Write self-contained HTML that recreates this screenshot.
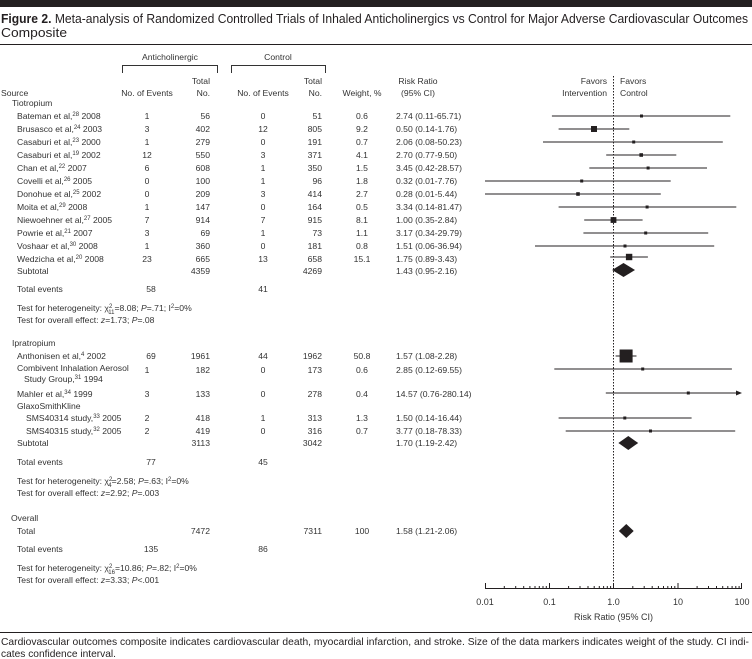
<!DOCTYPE html>
<html><head><meta charset="utf-8"><style>
body{margin:0;background:#fff;}
svg{display:block;font-family:"Liberation Sans",Arial,sans-serif;}
.t{font-size:8.6px;fill:#333;}
.m{text-anchor:middle}.e{text-anchor:end}
</style></head><body>
<svg width="752" height="659" viewBox="0 0 752 659" xmlns="http://www.w3.org/2000/svg">
<rect x="0" y="0" width="752" height="7" fill="#231f20"/>
<text x="1" y="23" textLength="747" lengthAdjust="spacingAndGlyphs" style="font-size:13px;fill:#231f20"><tspan font-weight="bold">Figure 2.</tspan> Meta-analysis of Randomized Controlled Trials of Inhaled Anticholinergics vs Control for Major Adverse Cardiovascular Outcomes</text>
<text x="1" y="37" textLength="66" lengthAdjust="spacingAndGlyphs" style="font-size:13px;fill:#231f20">Composite</text>
<line x1="0" y1="44.5" x2="752" y2="44.5" stroke="#231f20" stroke-width="1"/>

<g class="t">
<text x="170" y="60" class="m">Anticholinergic</text>
<text x="278" y="60" class="m">Control</text>
<text x="210" y="84" class="e">Total</text><text x="210" y="96" class="e">No.</text>
<text x="322" y="84" class="e">Total</text><text x="322" y="96" class="e">No.</text>
<text x="1" y="96">Source</text>
<text x="147" y="96" class="m">No. of Events</text>
<text x="263" y="96" class="m">No. of Events</text>
<text x="362" y="96" class="m">Weight, %</text>
<text x="418" y="84" class="m">Risk Ratio</text>
<text x="418" y="96" class="m">(95% CI)</text>
<text x="607" y="84" class="e">Favors</text>
<text x="607" y="96" class="e">Intervention</text>
<text x="620" y="84">Favors</text>
<text x="620" y="96">Control</text>
</g>
<path d="M122.5 73V65.5H217.5V73M231.5 73V65.5H325.5V73" fill="none" stroke="#333" stroke-width="1"/>

<g class="t">
<text x="12" y="106">Tiotropium</text>
<text x="17" y="119">Bateman et al,<tspan dy="-3" font-size="6">28</tspan><tspan dy="3"> 2008</tspan></text>
<text x="17" y="132">Brusasco et al,<tspan dy="-3" font-size="6">24</tspan><tspan dy="3"> 2003</tspan></text>
<text x="17" y="145">Casaburi et al,<tspan dy="-3" font-size="6">23</tspan><tspan dy="3"> 2000</tspan></text>
<text x="17" y="158">Casaburi et al,<tspan dy="-3" font-size="6">19</tspan><tspan dy="3"> 2002</tspan></text>
<text x="17" y="171">Chan et al,<tspan dy="-3" font-size="6">22</tspan><tspan dy="3"> 2007</tspan></text>
<text x="17" y="184">Covelli et al,<tspan dy="-3" font-size="6">26</tspan><tspan dy="3"> 2005</tspan></text>
<text x="17" y="197">Donohue et al,<tspan dy="-3" font-size="6">25</tspan><tspan dy="3"> 2002</tspan></text>
<text x="17" y="210">Moita et al,<tspan dy="-3" font-size="6">29</tspan><tspan dy="3"> 2008</tspan></text>
<text x="17" y="223">Niewoehner et al,<tspan dy="-3" font-size="6">27</tspan><tspan dy="3"> 2005</tspan></text>
<text x="17" y="236">Powrie et al,<tspan dy="-3" font-size="6">21</tspan><tspan dy="3"> 2007</tspan></text>
<text x="17" y="249">Voshaar et al,<tspan dy="-3" font-size="6">30</tspan><tspan dy="3"> 2008</tspan></text>
<text x="17" y="262">Wedzicha et al,<tspan dy="-3" font-size="6">20</tspan><tspan dy="3"> 2008</tspan></text>
<text x="17" y="274">Subtotal</text>
<text x="17" y="292">Total events</text>
<text x="17" y="311">Test for heterogeneity: χ<tspan dy="-3" font-size="6">2</tspan><tspan dx="-4" dy="6" font-size="6">11</tspan><tspan dy="-3">=8.08; </tspan><tspan font-style="italic">P</tspan>=.71; I<tspan dy="-3" font-size="6">2</tspan><tspan dy="3">=0%</tspan></text>
<text x="17" y="323">Test for overall effect: <tspan font-style="italic">z</tspan>=1.73; <tspan font-style="italic">P</tspan>=.08</text>

<g class="m">
<text x="147" y="119">1</text><text x="147" y="132">3</text><text x="147" y="145">1</text><text x="147" y="158">12</text><text x="147" y="171">6</text><text x="147" y="184">0</text><text x="147" y="197">0</text><text x="147" y="210">1</text><text x="147" y="223">7</text><text x="147" y="236">3</text><text x="147" y="249">1</text><text x="147" y="262">23</text><text x="151" y="292">58</text>
<text x="263" y="119">0</text><text x="263" y="132">12</text><text x="263" y="145">0</text><text x="263" y="158">3</text><text x="263" y="171">1</text><text x="263" y="184">1</text><text x="263" y="197">3</text><text x="263" y="210">0</text><text x="263" y="223">7</text><text x="263" y="236">1</text><text x="263" y="249">0</text><text x="263" y="262">13</text><text x="263" y="292">41</text>
<text x="362" y="119">0.6</text><text x="362" y="132">9.2</text><text x="362" y="145">0.7</text><text x="362" y="158">4.1</text><text x="362" y="171">1.5</text><text x="362" y="184">1.8</text><text x="362" y="197">2.7</text><text x="362" y="210">0.5</text><text x="362" y="223">8.1</text><text x="362" y="236">1.1</text><text x="362" y="249">0.8</text><text x="362" y="262">15.1</text>
</g>
<g class="e">
<text x="210" y="119">56</text><text x="210" y="132">402</text><text x="210" y="145">279</text><text x="210" y="158">550</text><text x="210" y="171">608</text><text x="210" y="184">100</text><text x="210" y="197">209</text><text x="210" y="210">147</text><text x="210" y="223">914</text><text x="210" y="236">69</text><text x="210" y="249">360</text><text x="210" y="262">665</text><text x="210" y="274">4359</text>
<text x="322" y="119">51</text><text x="322" y="132">805</text><text x="322" y="145">191</text><text x="322" y="158">371</text><text x="322" y="171">350</text><text x="322" y="184">96</text><text x="322" y="197">414</text><text x="322" y="210">164</text><text x="322" y="223">915</text><text x="322" y="236">73</text><text x="322" y="249">181</text><text x="322" y="262">658</text><text x="322" y="274">4269</text>
</g>
<text x="396" y="119">2.74 (0.11-65.71)</text><text x="396" y="132">0.50 (0.14-1.76)</text><text x="396" y="145">2.06 (0.08-50.23)</text><text x="396" y="158">2.70 (0.77-9.50)</text><text x="396" y="171">3.45 (0.42-28.57)</text><text x="396" y="184">0.32 (0.01-7.76)</text><text x="396" y="197">0.28 (0.01-5.44)</text><text x="396" y="210">3.34 (0.14-81.47)</text><text x="396" y="223">1.00 (0.35-2.84)</text><text x="396" y="236">3.17 (0.34-29.79)</text><text x="396" y="249">1.51 (0.06-36.94)</text><text x="396" y="262">1.75 (0.89-3.43)</text><text x="396" y="274">1.43 (0.95-2.16)</text>

<text x="12" y="346">Ipratropium</text>
<text x="17" y="359">Anthonisen et al,<tspan dy="-3" font-size="6">4</tspan><tspan dy="3"> 2002</tspan></text>
<text x="17" y="371">Combivent Inhalation Aerosol</text>
<text x="24" y="382">Study Group,<tspan dy="-3" font-size="6">31</tspan><tspan dy="3"> 1994</tspan></text>
<text x="17" y="397">Mahler et al,<tspan dy="-3" font-size="6">34</tspan><tspan dy="3"> 1999</tspan></text>
<text x="17" y="409">GlaxoSmithKline</text>
<text x="26" y="421">SMS40314 study,<tspan dy="-3" font-size="6">33</tspan><tspan dy="3"> 2005</tspan></text>
<text x="26" y="434">SMS40315 study,<tspan dy="-3" font-size="6">32</tspan><tspan dy="3"> 2005</tspan></text>
<text x="17" y="446">Subtotal</text>
<text x="17" y="465">Total events</text>
<text x="17" y="484">Test for heterogeneity: χ<tspan dy="-3" font-size="6">2</tspan><tspan dx="-4" dy="6" font-size="6">4</tspan><tspan dy="-3">=2.58; </tspan><tspan font-style="italic">P</tspan>=.63; I<tspan dy="-3" font-size="6">2</tspan><tspan dy="3">=0%</tspan></text>
<text x="17" y="496">Test for overall effect: <tspan font-style="italic">z</tspan>=2.92; <tspan font-style="italic">P</tspan>=.003</text>
<g class="m">
<text x="151" y="359">69</text><text x="147" y="373">1</text><text x="147" y="397">3</text><text x="147" y="421">2</text><text x="147" y="434">2</text><text x="151" y="465">77</text>
<text x="263" y="359">44</text><text x="263" y="373">0</text><text x="263" y="397">0</text><text x="263" y="421">1</text><text x="263" y="434">0</text><text x="263" y="465">45</text>
<text x="362" y="359">50.8</text><text x="362" y="373">0.6</text><text x="362" y="397">0.4</text><text x="362" y="421">1.3</text><text x="362" y="434">0.7</text>
</g>
<g class="e">
<text x="210" y="359">1961</text><text x="210" y="373">182</text><text x="210" y="397">133</text><text x="210" y="421">418</text><text x="210" y="434">419</text><text x="210" y="446">3113</text>
<text x="322" y="359">1962</text><text x="322" y="373">173</text><text x="322" y="397">278</text><text x="322" y="421">313</text><text x="322" y="434">316</text><text x="322" y="446">3042</text>
</g>
<text x="396" y="359">1.57 (1.08-2.28)</text><text x="396" y="373">2.85 (0.12-69.55)</text><text x="396" y="397">14.57 (0.76-280.14)</text><text x="396" y="421">1.50 (0.14-16.44)</text><text x="396" y="434">3.77 (0.18-78.33)</text><text x="396" y="446">1.70 (1.19-2.42)</text>

<text x="11" y="521">Overall</text>
<text x="17" y="534">Total</text>
<text x="210" y="534" class="e">7472</text><text x="322" y="534" class="e">7311</text><text x="362" y="534" class="m">100</text>
<text x="396" y="534">1.58 (1.21-2.06)</text>
<text x="17" y="552">Total events</text>
<text x="151" y="552" class="m">135</text><text x="263" y="552" class="m">86</text>
<text x="17" y="571">Test for heterogeneity: χ<tspan dy="-3" font-size="6">2</tspan><tspan dx="-4" dy="6" font-size="6">16</tspan><tspan dy="-3">=10.86; </tspan><tspan font-style="italic">P</tspan>=.82; I<tspan dy="-3" font-size="6">2</tspan><tspan dy="3">=0%</tspan></text>
<text x="17" y="583">Test for overall effect: <tspan font-style="italic">z</tspan>=3.33; <tspan font-style="italic">P</tspan>&lt;.001</text>
</g>

<!-- plot -->
<line x1="613.5" y1="76" x2="613.5" y2="588" stroke="#231f20" stroke-width="1" stroke-dasharray="1.5,1.5"/>
<g stroke="#231f20" stroke-width="1.1">
<line x1="551.9" y1="116" x2="730.3" y2="116"/>
<line x1="558.6" y1="129" x2="629.3" y2="129"/>
<line x1="543" y1="142" x2="722.8" y2="142"/>
<line x1="606.2" y1="155" x2="676.3" y2="155"/>
<line x1="589.3" y1="168" x2="707" y2="168"/>
<line x1="485" y1="181" x2="670.7" y2="181"/>
<line x1="485" y1="194" x2="660.8" y2="194"/>
<line x1="558.6" y1="207" x2="736.3" y2="207"/>
<line x1="584.2" y1="220" x2="642.6" y2="220"/>
<line x1="583.4" y1="233" x2="708.2" y2="233"/>
<line x1="535" y1="246" x2="714.2" y2="246"/>
<line x1="610.2" y1="257" x2="647.9" y2="257"/>
<line x1="615.6" y1="356" x2="636.5" y2="356"/>
<line x1="554.3" y1="369" x2="731.9" y2="369"/>
<line x1="605.8" y1="393" x2="738" y2="393"/>
<line x1="558.6" y1="418" x2="691.6" y2="418"/>
<line x1="565.7" y1="431" x2="735.2" y2="431"/>
</g>
<g fill="#231f20">
<rect x="640" y="114.5" width="3" height="3"/>
<rect x="591" y="126" width="6" height="6"/>
<rect x="632.2" y="140.5" width="3" height="3"/>
<rect x="639.4" y="153.2" width="3.6" height="3.6"/>
<rect x="646.6" y="166.5" width="3" height="3"/>
<rect x="580.2" y="179.5" width="3" height="3"/>
<rect x="576.2" y="192.2" width="3.6" height="3.6"/>
<rect x="645.6" y="205.5" width="3" height="3"/>
<rect x="610.6" y="217.1" width="5.8" height="5.8"/>
<rect x="644.2" y="231.5" width="3" height="3"/>
<rect x="623.5" y="244.5" width="3" height="3"/>
<rect x="625.9" y="253.8" width="6.4" height="6.4"/>
<rect x="619.6" y="349.5" width="13" height="13"/>
<rect x="641.2" y="367.5" width="3" height="3"/>
<rect x="686.8" y="391.5" width="3" height="3"/>
<rect x="623.3" y="416.5" width="3" height="3"/>
<rect x="649" y="429.5" width="3" height="3"/>
<polygon points="742,393 736,390.5 736,395.5"/>
<polygon points="612.1,270 623.5,263 635,270 623.5,277"/>
<polygon points="618.4,443 628.3,436 638.2,443 628.3,450"/>
<polygon points="618.8,531 626.3,524 633.7,531 626.3,538"/>
</g>
<g stroke="#231f20" stroke-width="1">
<line x1="485" y1="588.5" x2="742" y2="588.5"/>
<path d="M485.5 588V583M549.5 588V583M613.5 588V583M678 588V583M741.5 588V583" />
<path d="M504.3 588V586M515.7 588V586M523.7 588V586M529.9 588V586M535 588V586M539.3 588V586M543 588V586M546.3 588V586
M568.6 588V586M580 588V586M588 588V586M594.2 588V586M599.3 588V586M603.6 588V586M607.3 588V586M610.6 588V586
M632.8 588V586M644.2 588V586M652.2 588V586M658.4 588V586M663.5 588V586M667.8 588V586M671.5 588V586M674.8 588V586
M697.1 588V586M708.5 588V586M716.5 588V586M722.7 588V586M727.8 588V586M732.1 588V586M735.8 588V586M739.1 588V586"/>
</g>
<g class="t m" style="font-size:9px">
<text x="485" y="605">0.01</text><text x="549.5" y="605">0.1</text><text x="613.5" y="605">1.0</text><text x="678" y="605">10</text><text x="742" y="605">100</text>
<text x="613.5" y="620">Risk Ratio (95% CI)</text>
</g>
<line x1="0" y1="632.5" x2="752" y2="632.5" stroke="#231f20" stroke-width="1"/>
<text x="1" y="645" textLength="748" lengthAdjust="spacingAndGlyphs" style="font-size:10.5px;fill:#231f20">Cardiovascular outcomes composite indicates cardiovascular death, myocardial infarction, and stroke. Size of the data markers indicates weight of the study. CI indi-</text>
<text x="1" y="657" textLength="115" lengthAdjust="spacingAndGlyphs" style="font-size:10.5px;fill:#231f20">cates confidence interval.</text>
</svg>
</body></html>
